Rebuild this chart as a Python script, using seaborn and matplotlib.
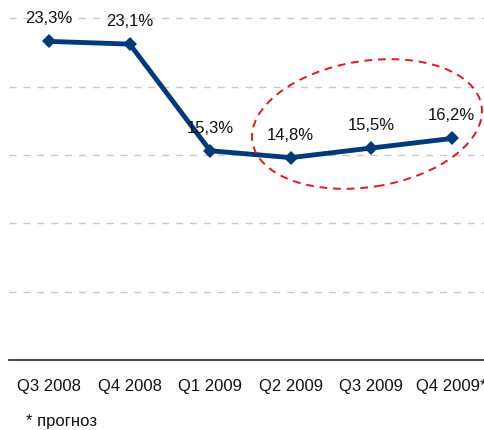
import numpy as np
import pandas as pd
import seaborn as sns
import matplotlib.pyplot as plt
from matplotlib.patches import Ellipse
from matplotlib.ticker import FixedLocator

quarters = ['Q3 2008', 'Q4 2008', 'Q1 2009', 'Q2 2009', 'Q3 2009', 'Q4 2009*']
values = [23.3, 23.1, 15.3, 14.8, 15.5, 16.2]
labels = ['23,3%', '23,1%', '15,3%', '14,8%', '15,5%', '16,2%']

sns.set_style('white')
plt.rcParams['font.family'] = ['Liberation Sans', 'DejaVu Sans']

fig = plt.figure(figsize=(4.84, 4.31), dpi=100)
# axes runs a bit past the right edge, like the cropped original
ax = fig.add_axes([9 / 484, 70 / 431, 483 / 484, 361 / 431])

df = pd.DataFrame({'idx': np.arange(len(quarters)), 'val': values})
sns.lineplot(data=df, x='idx', y='val', ax=ax, color='#003a7a', linewidth=3.5,
             marker='D', markersize=7.5, markeredgewidth=0, sort=False)

for i, (v, lab) in enumerate(zip(values, labels)):
    ax.annotate(lab, (i, v), xytext=(0, 17), textcoords='offset points',
                ha='center', va='center', fontsize=12, color='#111111')

ax.set_xlim(-0.5, 5.5)
ax.set_ylim(0, 26.4)
ax.set_yticks([5, 10, 15, 20, 25])
ax.set_yticklabels([])
ax.tick_params(axis='y', length=0)
ax.yaxis.grid(True, color='#c8c8c8', linestyle=(0, (5, 5)), linewidth=1)
ax.set_axisbelow(True)

ax.set_xticks(range(len(quarters)))
ax.set_xticklabels(quarters, fontsize=12, color='#111111')
ax.tick_params(axis='x', which='major', length=0, pad=13)
ax.xaxis.set_minor_locator(FixedLocator(np.arange(-0.5, 6, 1)))
ax.tick_params(axis='x', which='minor', length=5, width=1, color='#333333', direction='out')
ax.set_xlabel('')
ax.set_ylabel('')

for s in ['top', 'right', 'left']:
    ax.spines[s].set_visible(False)
ax.spines['bottom'].set_color('#333333')
ax.spines['bottom'].set_linewidth(1.3)

# red dashed ellipse round the last three quarters (pixel coords)
ell = Ellipse((367, 431 - 125), 232, 126, angle=9, transform=None, fill=False,
              edgecolor='#e8151b', linestyle=(0, (4, 3)), linewidth=1.4)
fig.patches.append(ell)

fig.text(26 / 484, 1 - 422 / 431, '* прогноз', fontsize=12, color='#111111', va='center')

fig.savefig('out.png', dpi=100)
